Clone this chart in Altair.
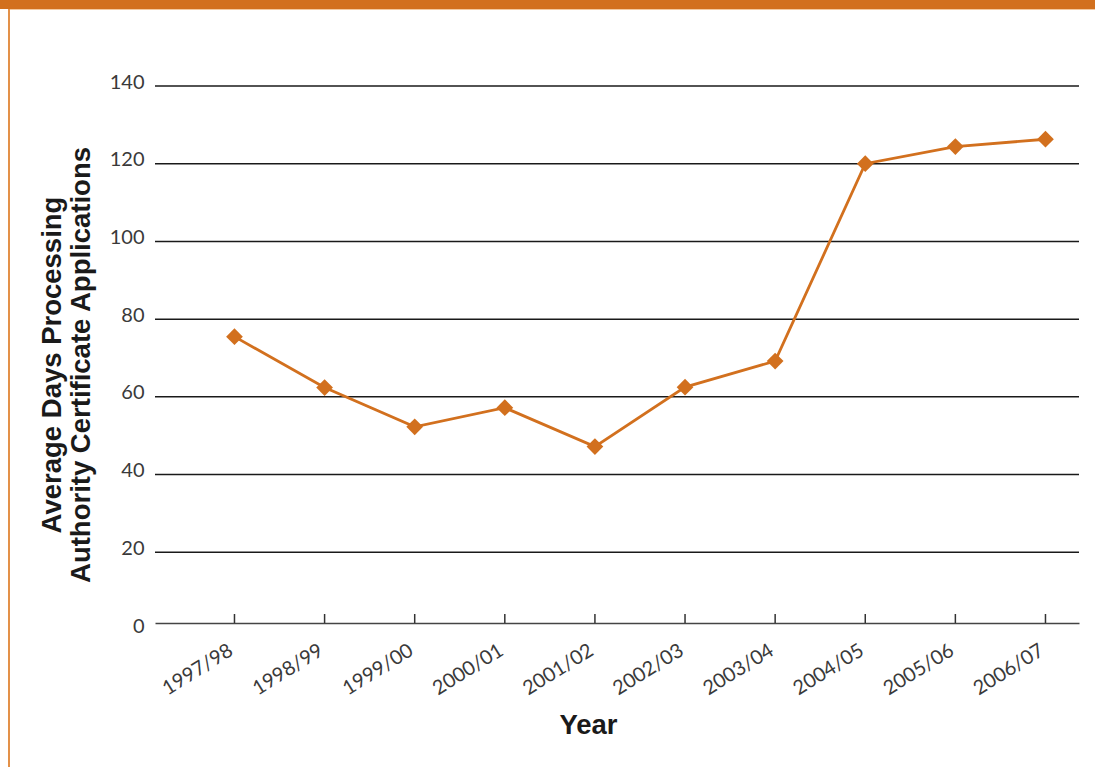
import altair as alt
import pandas as pd

years = ["1997/98", "1998/99", "1999/00", "2000/01", "2001/02",
         "2002/03", "2003/04", "2004/05", "2005/06", "2006/07"]
days = [75.5, 62.4, 52.3, 57.2, 47.2, 62.5, 69.2, 120.0, 124.4, 126.3]
y_ticks = [0, 20, 40, 60, 80, 100, 120, 140]
grid_values = [20, 40, 60, 80, 100, 120, 140]

ORANGE = "#D2701E"
W, H = 924, 544

df = pd.DataFrame({"idx": list(range(len(years))), "year": years, "days": days})
label_expr = "[" + ",".join("'%s'" % y for y in years) + "][datum.value]"

x_scale = alt.Scale(domain=[-0.882, 9.372], nice=False, zero=False)
y_scale = alt.Scale(domain=[0, 140], nice=False)

x_enc = alt.X("idx:Q", scale=x_scale,
              axis=alt.Axis(values=list(range(len(years))), labelExpr=label_expr,
                            title="Year", grid=False, ticks=False, tickSize=0,
                            offset=-7, domainColor="#444444", domainWidth=1.5,
                            labelAngle=-32, labelAlign="right", labelBaseline="top",
                            labelPadding=17, labelOffset=-9, labelFont="Lato",
                            labelFontWeight=400, labelFontSize=20,
                            labelColor="#3a3a3a",
                            titleFont="Liberation Sans", titleFontWeight="bold",
                            titleFontSize=27.5, titleColor="#1a1a1a",
                            titleX=433, titleY=110, titleBaseline="alphabetic",
                            titleAlign="center", labelOverlap=False))
y_enc = alt.Y("days:Q", scale=y_scale,
              axis=alt.Axis(values=y_ticks, grid=False, ticks=False, tickSize=0,
                            domain=False, labelPadding=11, labelOffset=-4,
                            labelFont="Lato", labelFontWeight=400, labelFontSize=20,
                            labelColor="#3a3a3a",
                            title=["Average Days Processing",
                                   "Authority Certificate Applications"],
                            titleFont="Liberation Sans", titleFontWeight="bold",
                            titleFontSize=27.5, titleLineHeight=29,
                            titleColor="#1a1a1a", titleX=-95, titleY=278.5,
                            titleAngle=-90, titleAlign="center",
                            titleBaseline="alphabetic"))

grid = alt.Chart(pd.DataFrame({"g": grid_values})).mark_rule(
    color="#1a1a1a", strokeWidth=1.5).encode(
    y=alt.Y("g:Q", scale=y_scale), x=alt.value(0), x2=alt.value(W))

ticks = alt.Chart(df).mark_rule(color="#333333", strokeWidth=1.5).encode(
    x=alt.X("idx:Q", scale=x_scale), y=alt.value(H - 16), y2=alt.value(H - 7))

line = alt.Chart(df).mark_line(color=ORANGE, strokeWidth=2.8).encode(x=x_enc, y=y_enc)
pts = alt.Chart(df).mark_point(shape="diamond", filled=True, size=280,
                               color=ORANGE, opacity=1).encode(
    x=alt.X("idx:Q", scale=x_scale), y=alt.Y("days:Q", scale=y_scale))

one = alt.Data(values=[{"a": 1}])
top_bar = alt.Chart(one).mark_rect(color=ORANGE).encode(
    x=alt.value(-155), x2=alt.value(940), y=alt.value(-86), y2=alt.value(-77))
top_strip = alt.Chart(one).mark_rule(color="#F3C9A0", strokeWidth=1).encode(
    x=alt.value(-146), x2=alt.value(940), y=alt.value(-76.5))
left_line = alt.Chart(one).mark_rule(color="#E39149", strokeWidth=2).encode(
    x=alt.value(-146), y=alt.value(-77), y2=alt.value(H + 137))

chart = alt.layer(top_bar, top_strip, left_line, grid, ticks, line, pts).properties(
    width=W, height=H, background="white",
    padding={"left": 155, "top": 86, "right": 16, "bottom": 137},
    autosize=alt.AutoSizeParams(type="none"),
).configure_view(stroke=None, strokeWidth=0)

chart.save("out.html", embed_options={"renderer": "svg", "actions": False})
